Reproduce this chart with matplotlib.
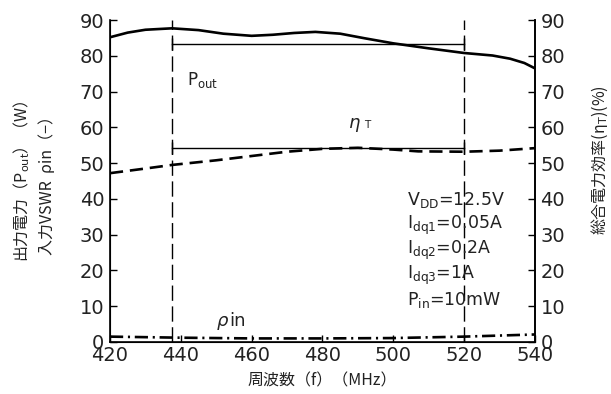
import matplotlib
matplotlib.use("Agg")
import matplotlib.pyplot as plt

plt.rcParams['font.family'] = ['DejaVu Sans', 'Noto Sans CJK JP']
plt.rcParams['mathtext.fontset'] = 'custom'
plt.rcParams['mathtext.rm'] = 'DejaVu Sans'
plt.rcParams['mathtext.it'] = 'DejaVu Sans:italic'

TXT = '#222222'
CJK = 'Noto Sans CJK JP'

# Data
freq_pout = [420, 425, 430, 437.5, 445, 452, 460, 466, 472, 478, 485, 492, 500, 510, 520, 528, 533, 537, 540]
pout = [85.2, 86.5, 87.3, 87.7, 87.2, 86.2, 85.6, 85.9, 86.4, 86.7, 86.2, 84.9, 83.5, 82.1, 80.8, 80.1, 79.2, 78.0, 76.5]

freq_eta = [420, 430, 437.5, 450, 460, 470, 480, 490, 500, 507, 520, 530, 540]
eta = [47.2, 48.5, 49.5, 50.8, 52.0, 53.2, 54.0, 54.3, 53.8, 53.3, 53.2, 53.5, 54.2]

freq_rho = [420, 440, 460, 480, 500, 520, 530, 540]
rho = [1.5, 1.2, 1.0, 1.0, 1.1, 1.5, 1.8, 2.1]

band = [437.5, 520]
pout_ref = 83.3
eta_ref = 54.1

xticks = [420, 440, 460, 480, 500, 520, 540]
yticks = [0, 10, 20, 30, 40, 50, 60, 70, 80, 90]

fig = plt.figure(figsize=(6.11, 3.94), dpi=100)
ax = fig.add_axes([0.18, 0.132, 0.6956, 0.817])

ax.plot(freq_pout, pout, color='black', lw=1.9)
ax.plot(freq_eta, eta, color='black', lw=1.9, dashes=(5.0, 2.6))
ax.plot(freq_rho, rho, color='black', lw=1.9, dashes=(5.0, 1.8, 0.8, 1.8))

for b in band:
    ax.plot([b, b], [0, 90], color='black', lw=1.0, dashes=(11, 4))

for yv in [pout_ref, eta_ref]:
    ax.plot(band, [yv, yv], color='black', lw=1.0, marker='|', markersize=8, markeredgewidth=1.0)

ax.set_xlim(420, 540)
ax.set_ylim(0, 90)
ax.set_xticks(xticks)
ax.set_yticks(yticks)
ax.tick_params(direction='in', length=5, width=1, labelsize=14, pad=4, labelcolor=TXT)
ax.tick_params(axis='x', pad=3)
ax.spines['top'].set_visible(False)
for s in ['left', 'bottom', 'right']:
    ax.spines[s].set_linewidth(1.2)

ax2 = ax.twinx()
ax2.set_ylim(0, 90)
ax2.set_yticks(yticks)
ax2.tick_params(direction='in', length=5, width=1, labelsize=14, pad=4, labelcolor=TXT)
ax2.spines['top'].set_visible(False)
ax2.spines['right'].set_linewidth(1.2)

ax.set_xlabel('周波数（f）（MHz）', fontsize=11.5, labelpad=5, color=TXT, family=[CJK])
yc = 0.5405
fig.text(0.035, yc, '出力電力（P$_{\\mathrm{out}}$）（W）', rotation=90,
         ha='center', va='center', fontsize=11.5, color=TXT, family=[CJK])
fig.text(0.077, yc, '入力VSWR  ρin（−）', rotation=90,
         ha='center', va='center', fontsize=11.5, color=TXT, family=[CJK, 'DejaVu Sans'])
fig.text(0.982, 0.594, '総合電力効率(η$_{\\mathrm{T}}$)(%)', rotation=90,
         ha='center', va='center', fontsize=11.5, color=TXT, family=[CJK])

ax.text(441.7, 73.2, 'P$_{\\mathrm{out}}$', fontsize=12, ha='left', va='center', color=TXT)
ax.text(487.5, 61.2, 'η', fontsize=13, style='italic', ha='left', va='center', color=TXT)
ax.text(491.8, 60.6, 'T', fontsize=7.5, ha='left', va='center', color=TXT)
ax.text(450.2, 5.9, 'ρ', fontsize=13, style='italic', ha='left', va='center', color=TXT)
ax.text(453.8, 5.9, 'in', fontsize=13, ha='left', va='center', color=TXT)

ann = ['V$_{\\mathrm{DD}}$=12.5V', 'I$_{\\mathrm{dq1}}$=0.05A', 'I$_{\\mathrm{dq2}}$=0.2A',
       'I$_{\\mathrm{dq3}}$=1A', 'P$_{\\mathrm{in}}$=10mW']
for i, t in enumerate(ann):
    ax.text(503.9, 39.7 - i * 7.0, t, fontsize=12.5, ha='left', va='center', color=TXT)

fig.savefig('out.png', dpi=100)
